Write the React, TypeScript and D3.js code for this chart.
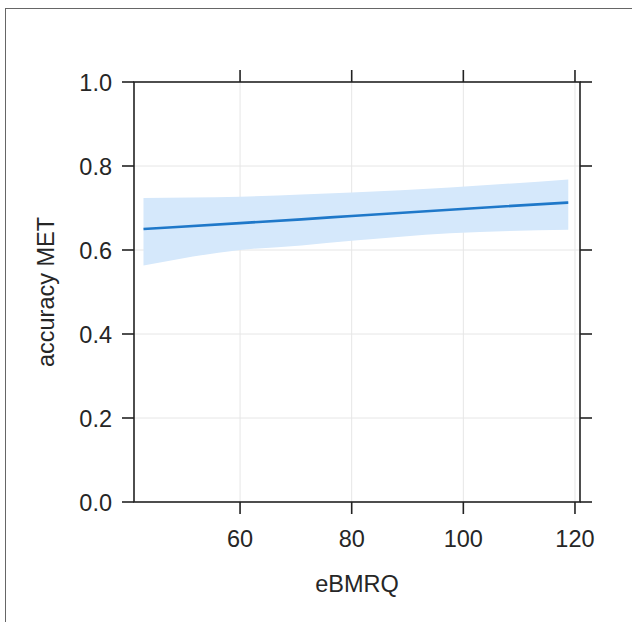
import React from "react";
import * as d3 from "d3";

// Data (effect plot: accuracy MET vs eBMRQ)
const xValues = [42.7, 60, 71, 80, 97.6, 118.8];
const fitValues = [0.650, 0.664, 0.673, 0.681, 0.696, 0.713];
const lowerValues = [0.563, 0.600, 0.611, 0.622, 0.640, 0.648];
const upperValues = [0.724, 0.727, 0.732, 0.737, 0.749, 0.768];
const xTicks = [60, 80, 100, 120];
const yTicks = [0, 0.2, 0.4, 0.6, 0.8, 1.0];
const xLabel = "eBMRQ";
const yLabel = "accuracy MET";

const W = 632;
const H = 622;
const margin = { left: 134, right: 52, top: 82, bottom: 120 };

export default function App() {
  const x = d3.scaleLinear().domain([41.0, 120.9]).range([margin.left, W - margin.right]);
  const y = d3.scaleLinear().domain([0, 1]).range([H - margin.bottom, margin.top]);
  const data = xValues.map((v, i) => ({ x: v, fit: fitValues[i], lo: lowerValues[i], hi: upperValues[i] }));

  const area = d3
    .area<any>()
    .x((d) => x(d.x))
    .y0((d) => y(d.lo))
    .y1((d) => y(d.hi))
    .curve(d3.curveMonotoneX);
  const line = d3
    .line<any>()
    .x((d) => x(d.x))
    .y((d) => y(d.fit))
    .curve(d3.curveMonotoneX);

  const x0 = x.range()[0];
  const x1 = x.range()[1];
  const y0 = y.range()[0];
  const y1 = y.range()[1];
  const tick = 12;
  const font = "'Liberation Sans', Arial, sans-serif";
  const fs = 23.5;
  const axisColor = "#222";
  const textColor = "#262626";

  return (
    <div style={{ position: "absolute", left: 0, top: 0 }}>
      <svg width={W} height={H} style={{ display: "block", background: "#fff" }}>
        <rect x={5.5} y={8.5} width={700} height={700} fill="none" stroke="#666" strokeWidth={1} />
        {/* grid */}
        {xTicks.map((t) => (
          <line key={"gx" + t} x1={x(t)} x2={x(t)} y1={y0} y2={y1} stroke="#e6e6e6" strokeWidth={1} />
        ))}
        {yTicks.slice(1, -1).map((t) => (
          <line key={"gy" + t} x1={x0} x2={x1} y1={y(t)} y2={y(t)} stroke="#e6e6e6" strokeWidth={1} />
        ))}
        {/* band and fit */}
        <path d={area(data) || ""} fill="#d5e8fb" stroke="none" />
        <path d={line(data) || ""} fill="none" stroke="#1f78c9" strokeWidth={2.6} />
        {/* panel box */}
        <rect x={x0} y={y1} width={x1 - x0} height={y0 - y1} fill="none" stroke={axisColor} strokeWidth={1.6} />
        {/* x ticks bottom & top */}
        {xTicks.map((t) => (
          <g key={"xt" + t}>
            <line x1={x(t)} x2={x(t)} y1={y0} y2={y0 + tick} stroke={axisColor} strokeWidth={1.6} />
            <line x1={x(t)} x2={x(t)} y1={y1} y2={y1 - tick} stroke={axisColor} strokeWidth={1.6} />
            <text x={x(t)} y={y0 + 45} textAnchor="middle" fontFamily={font} fontSize={fs} fill={textColor}>
              {t}
            </text>
          </g>
        ))}
        {/* y ticks left & right */}
        {yTicks.map((t) => (
          <g key={"yt" + t}>
            <line x1={x0} x2={x0 - tick} y1={y(t)} y2={y(t)} stroke={axisColor} strokeWidth={1.6} />
            <line x1={x1} x2={x1 + tick} y1={y(t)} y2={y(t)} stroke={axisColor} strokeWidth={1.6} />
            <text x={x0 - 22} y={y(t) + 8.5} textAnchor="end" fontFamily={font} fontSize={fs} fill={textColor}>
              {d3.format(".1f")(t)}
            </text>
          </g>
        ))}
        <text x={(x0 + x1) / 2} y={592} textAnchor="middle" fontFamily={font} fontSize={fs} fill={textColor}>
          {xLabel}
        </text>
        <text
          transform={`translate(54,${(y0 + y1) / 2}) rotate(-90)`}
          textAnchor="middle"
          fontFamily={font}
          fontSize={fs}
          fill={textColor}
        >
          {yLabel}
        </text>
      </svg>
    </div>
  );
}
